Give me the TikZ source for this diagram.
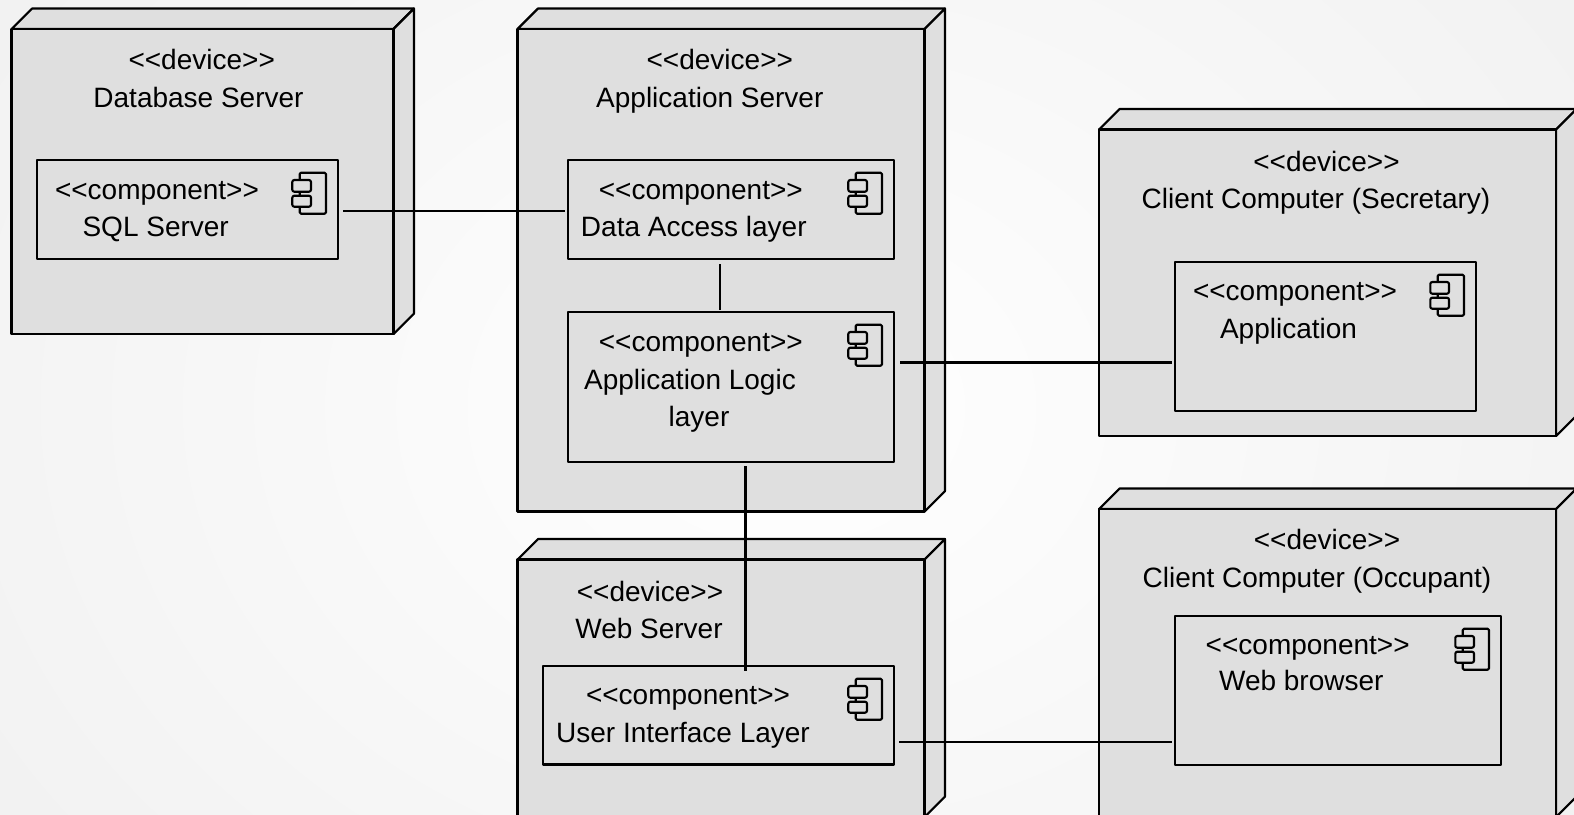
\documentclass[tikz,border=0pt]{standalone}
\usepackage{fontspec}
\setmainfont{Liberation Sans}
\tikzset{
  devfront/.style={draw=black,fill=devgray,line width=1.9pt,line join=round,inner sep=0pt,outer sep=0pt},
  devside/.style={draw=black,fill=devgray,line width=1.6pt,line join=round},
  compbox/.style={draw=black,fill=devgray,line width=1.6pt,line join=round,inner sep=0pt,outer sep=0pt},
  iconline/.style={draw=black,line width=1.6pt,line join=round},
  link/.style={draw=black,line width=1.7pt},
  heavylink/.style={draw=black,line width=2.6pt},
  lbl/.style={anchor=base,inner sep=0pt,font=\fontsize{21}{25}\selectfont,text=black},
  compicon/.pic={
    \path[iconline,fill=devgray,rounded corners=1pt] (-38.3,12.7) -- (-12,12.7) -- (-12,53.7) -- (-38.3,53.7) -- cycle;
    \path[iconline,fill=devgray,rounded corners=1.5pt] (-45.7,20) rectangle (-27,31.7);
    \path[iconline,fill=devgray,rounded corners=1.5pt] (-45.7,35.7) rectangle (-27,46.7);
  }
}
\definecolor{devgray}{HTML}{DFDFDF}
\newcommand{\devicebox}[5]{% name, x1, y1, x2, y2
  \path[devside] (#2,#3) -- ({#2+20.5},{#3-20.5}) -- ({#4+20.5},{#3-20.5}) -- (#4,#3) -- cycle;
  \path[devside] (#4,#3) -- ({#4+20.5},{#3-20.5}) -- ({#4+20.5},{#5-20.5}) -- (#4,#5) -- cycle;
  \node[devfront,minimum width={(#4-#2)*0.75pt},minimum height={(#5-#3)*0.75pt}] (#1) at ({(#2+#4)/2},{(#3+#5)/2}) {};
}
\newcommand{\compnode}[5]{% name, x1, y1, x2, y2
  \node[compbox,minimum width={(#4-#2)*0.75pt},minimum height={(#5-#3)*0.75pt}] (#1) at ({(#2+#4)/2},{(#3+#5)/2}) {};
  \pic at (#1.north east) {compicon};
}
\newcommand{\stereo}[1]{<{}<#1>{}>}
\begin{document}
\begin{tikzpicture}[x=0.75pt,y=-0.75pt]
\useasboundingbox (0,0) rectangle (1574,814);
\clip (0,0) rectangle (1574,814);
\fill[white] (0,0) rectangle (1574,814);
\shade[inner color=white,outer color=black!5,shading=radial] (-120,-300) rectangle (1694,1114);

\devicebox{dbserver}{11.7}{29}{393.5}{334}
\devicebox{appserver}{517.5}{29}{924.5}{511.5}
\devicebox{webserver}{517.5}{559.5}{924.5}{817}
\devicebox{clientsec}{1099}{129.5}{1556}{436}
\devicebox{clientocc}{1099}{509}{1556}{817}

\compnode{sql}{37}{160}{338}{259}
\compnode{dal}{568}{160}{894}{259}
\compnode{logic}{568}{312}{894}{462}
\compnode{ui}{543}{666}{894}{764.5}
\compnode{apps}{1175}{262}{1476}{411}
\compnode{browser}{1175}{616}{1501}{765}

\node[lbl] (t1) at (201.7,69.5) {\stereo{device}};
\node[lbl] (t2) at (198.5,107.2) {Database Server};
\node[lbl] (t3) at (157,199.5) {\stereo{component}};
\node[lbl] (t4) at (155.7,236.2) {SQL Server};

\node[lbl] (t5) at (719.8,69.5) {\stereo{device}};
\node[lbl] (t6) at (709.8,107.2) {Application Server};
\node[lbl] (t7) at (700.8,199.5) {\stereo{component}};
\node[lbl] (t8) at (693.8,236.2) {Data Access layer};
\node[lbl] (t9) at (700.8,351) {\stereo{component}};
\node[lbl] (t10) at (690,389) {Application Logic};
\node[lbl] (t11) at (699,426.5) {layer};

\node[lbl] (t12) at (650,601.5) {\stereo{device}};
\node[lbl] (t13) at (649,638.2) {Web Server};
\node[lbl] (t14) at (688,704.5) {\stereo{component}};
\node[lbl] (t15) at (683,742.2) {User Interface Layer};

\node[lbl] (t16) at (1326.5,171) {\stereo{device}};
\node[lbl] (t17) at (1316,208.5) {Client Computer (Secretary)};
\node[lbl] (t18) at (1295,300) {\stereo{component}};
\node[lbl] (t19) at (1288.5,338) {Application};

\node[lbl] (t20) at (1327,549.5) {\stereo{device}};
\node[lbl] (t21) at (1317,587.8) {Client Computer (Occupant)};
\node[lbl] (t22) at (1307.7,654.2) {\stereo{component}};
\node[lbl] (t23) at (1301.3,690.5) {Web browser};

\coordinate (row1) at (0,210.7);
\coordinate (row2) at (0,362.5);
\coordinate (row3) at (0,742);
\coordinate (col1) at (720,0);
\coordinate (col2) at (745.7,0);

\path[link,shorten <=4pt,shorten >=2pt] (sql.east |- row1) -- (dal.west |- row1);
\path[link,shorten <=4pt,shorten >=1.5pt] (col1 |- dal.south) -- (col1 |- logic.north);
\path[link,shorten <=4.5pt,shorten >=2pt] (logic.east |- row2) -- (apps.west |- row2);
\path[heavylink,shorten <=3pt,shorten >=-4pt] (col2 |- logic.south) -- (col2 |- ui.north);
\path[link,shorten <=4pt,shorten >=2pt] (ui.east |- row3) -- (browser.west |- row3);
\end{tikzpicture}
\end{document}
